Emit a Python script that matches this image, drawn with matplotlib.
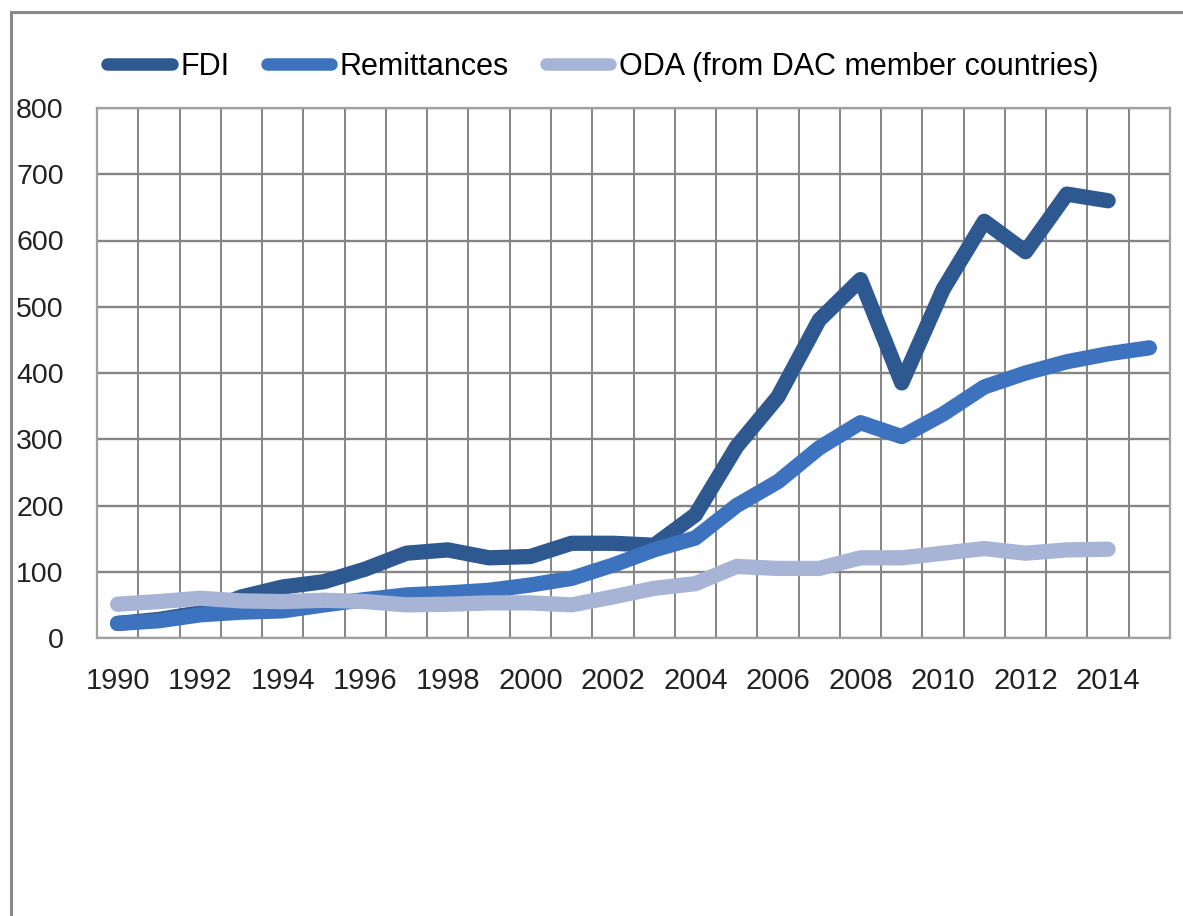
import numpy as np
import matplotlib
matplotlib.use("Agg")
import matplotlib.pyplot as plt
from matplotlib.lines import Line2D

plt.rcParams['font.family'] = ['Liberation Sans', 'DejaVu Sans']

years = list(range(1990, 2016))
fdi = [22, 28, 38, 62, 77, 85, 104, 128, 133, 121, 123, 143, 143, 140, 186,
       289, 364, 480, 541, 385, 526, 629, 583, 670, 660]
remittances = [22, 26, 35, 39, 41, 50, 58, 65, 68, 72, 80, 90, 110, 133, 151,
               200, 236, 287, 325, 304, 338, 379, 400, 417, 429, 438]
oda = [51, 55, 60, 56, 55, 57, 55, 50, 51, 53, 53, 50, 62, 75, 82,
       108, 105, 105, 121, 121, 128, 135, 128, 133, 134]
series_names = ["FDI", "Remittances", "ODA (from DAC member countries)"]
colors = ["#2D5890", "#3D72BE", "#A7B4D5"]
y_ticks = list(range(0, 801, 100))

fig = plt.figure(figsize=(11.83, 9.16), dpi=100)
ax = fig.add_axes([97 / 1183, 1 - 638 / 916, (1170 - 97) / 1183, (638 - 108) / 916])

x = np.arange(len(years))
for vals, col, name in zip([fdi, remittances, oda], colors, series_names):
    ax.plot(x[:len(vals)], vals, color=col, lw=11, solid_capstyle='round',
            solid_joinstyle='round', label=name, zorder=3)

ax.set_xlim(-0.5, len(years) - 0.5)
ax.set_ylim(0, 800)
ax.set_yticks(y_ticks)
ax.set_yticklabels([str(v) for v in y_ticks], fontsize=20.5, color="#222222")
ax.set_xticks(x[::2][:13])
ax.set_xticklabels([str(y) for y in years[::2][:13]], fontsize=21, color="#222222")
ax.set_xticks(np.arange(-0.5, len(years), 1), minor=True)
ax.tick_params(axis='both', which='both', length=0)
ax.tick_params(axis='y', pad=24)
ax.tick_params(axis='x', pad=21)
ax.grid(True, which='minor', axis='x', color="#858585", lw=1.4, zorder=1)
ax.grid(True, which='major', axis='y', color="#858585", lw=1.7, zorder=1)
ax.grid(False, which='major', axis='x')
for s in ax.spines.values():
    s.set_color("#a0a0a0")
    s.set_linewidth(1.6)

handles = [Line2D([0], [0], color=c, lw=9, solid_capstyle='round') for c in colors]
fig.legend(handles, series_names, loc='center', ncol=3, frameon=False,
           bbox_to_anchor=(603 / 1183, 1 - 67 / 916), fontsize=22,
           handlelength=2.1, handletextpad=0.3, columnspacing=1.2)

# outer frame: top and left edges
fig.add_artist(Line2D([11 / 1183, 1.0], [1 - 12 / 916, 1 - 12 / 916],
                      transform=fig.transFigure, color="#8a8a8a", lw=2.2))
fig.add_artist(Line2D([11 / 1183, 11 / 1183], [0.0, 1 - 12 / 916],
                      transform=fig.transFigure, color="#8a8a8a", lw=2.2))

fig.savefig("out.png", dpi=100)
